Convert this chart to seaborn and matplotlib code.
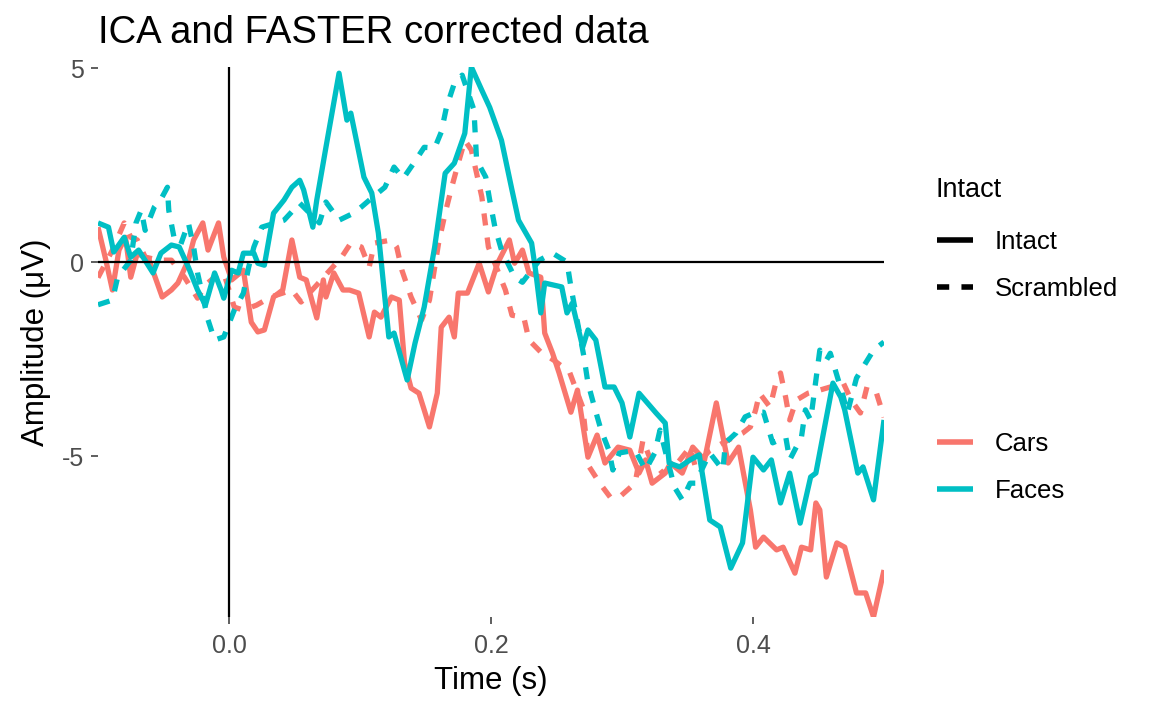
import numpy as np
import pandas as pd
import seaborn as sns
import matplotlib.pyplot as plt
from matplotlib.lines import Line2D

# values (time in s, amplitude in uV)
cars_intact_t = [-0.100, -0.094, -0.089, -0.084, -0.079, -0.075, -0.070, -0.061, -0.051, -0.044,
                 -0.039, -0.031, -0.027, -0.020, -0.016, -0.008, -0.004, 0.002, 0.011, 0.017,
                 0.022, 0.027, 0.034, 0.041, 0.048, 0.054, 0.059, 0.067, 0.072, 0.074,
                 0.080, 0.087, 0.092, 0.099, 0.107, 0.111, 0.116, 0.124, 0.130, 0.134,
                 0.139, 0.145, 0.149, 0.153, 0.159, 0.162, 0.168, 0.172, 0.175, 0.182,
                 0.191, 0.198, 0.205, 0.214, 0.218, 0.224, 0.229, 0.238, 0.241, 0.247,
                 0.252, 0.261, 0.266, 0.274, 0.281, 0.287, 0.297, 0.306, 0.313, 0.318,
                 0.323, 0.333, 0.337, 0.346, 0.354, 0.363, 0.372, 0.381, 0.389, 0.398,
                 0.402, 0.408, 0.418, 0.423, 0.432, 0.437, 0.444, 0.448, 0.451, 0.456,
                 0.464, 0.470, 0.479, 0.486, 0.492, 0.500]
cars_intact_uv = [0.90, 0.05, -0.72, 0.31, 0.64, -0.39, 0.23, 0.05, -0.90, -0.72,
                  -0.54, 0.05, 0.57, 1.01, 0.31, 1.01, 0.13, -0.46, -0.21, -1.55,
                  -1.80, -1.75, -0.90, -0.72, 0.57, -0.39, -0.46, -1.44, -0.46, -0.90,
                  -0.28, -0.72, -0.72, -0.80, -1.93, -1.29, -1.42, -0.90, -0.98, -2.60,
                  -3.25, -3.38, -3.81, -4.25, -3.38, -1.68, -1.42, -1.93, -0.80, -0.80,
                  -0.03, -0.77, -0.03, 0.57, -0.03, 0.31, -0.28, -0.39, -1.83, -2.35,
                  -2.86, -3.87, -3.30, -5.03, -4.46, -5.18, -4.77, -4.85, -5.44, -5.10,
                  -5.70, -5.44, -5.18, -5.44, -4.77, -5.10, -3.63, -5.18, -4.77, -6.39,
                  -7.35, -7.09, -7.42, -7.35, -8.02, -7.35, -7.42, -6.21, -6.39, -8.12,
                  -7.24, -7.35, -8.53, -8.53, -9.15, -7.94]

cars_scr_t = [-0.100, -0.089, -0.080, -0.075, -0.070, -0.064, -0.054, -0.044, -0.034, -0.024,
              -0.018, -0.011, -0.004, 0.004, 0.011, 0.021, 0.032, 0.048, 0.055, 0.067,
              0.077, 0.086, 0.093, 0.101, 0.107, 0.111, 0.124, 0.128, 0.132, 0.139,
              0.147, 0.153, 0.160, 0.165, 0.170, 0.175, 0.180, 0.185, 0.189, 0.193,
              0.198, 0.205, 0.211, 0.216, 0.225, 0.229, 0.238, 0.248, 0.260, 0.270,
              0.275, 0.283, 0.291, 0.298, 0.310, 0.316, 0.321, 0.331, 0.340, 0.352,
              0.356, 0.367, 0.381, 0.392, 0.398, 0.402, 0.405, 0.413, 0.418, 0.421,
              0.425, 0.428, 0.433, 0.442, 0.451, 0.469, 0.475, 0.482, 0.487, 0.494,
              0.500]
cars_scr_uv = [-0.40, 0.31, 1.01, 0.64, 0.57, 0.13, 0.05, 0.05, -0.39, -0.93,
               -0.59, -0.39, -0.28, -1.16, -1.24, -1.11, -0.90, -0.72, -1.03, -0.59,
               -0.21, 0.13, 0.49, 0.39, -0.13, 0.49, 0.57, 0.39, -0.21, -0.90,
               -1.49, -0.98, 0.49, 1.26, 1.93, 2.55, 3.14, 2.89, 2.29, 1.68,
               0.39, -0.21, -0.72, -1.37, -1.42, -2.01, -2.32, -2.53, -2.84, -3.74,
               -5.28, -5.70, -6.06, -6.06, -5.70, -4.59, -5.03, -5.44, -5.28, -4.77,
               -5.28, -4.85, -4.59, -4.41, -4.25, -3.81, -3.38, -3.74, -3.04, -2.86,
               -3.50, -4.07, -3.56, -3.38, -3.30, -3.12, -3.56, -3.89, -3.22, -3.35,
               -4.00]

faces_intact_t = [-0.100, -0.092, -0.088, -0.080, -0.075, -0.069, -0.058, -0.052, -0.044, -0.038,
                  -0.031, -0.024, -0.018, -0.011, -0.006, -0.004, 0.002, 0.007, 0.011, 0.019,
                  0.022, 0.027, 0.034, 0.042, 0.048, 0.054, 0.057, 0.064, 0.067, 0.074,
                  0.084, 0.090, 0.093, 0.103, 0.109, 0.114, 0.122, 0.126, 0.136, 0.142,
                  0.149, 0.157, 0.165, 0.172, 0.180, 0.185, 0.193, 0.199, 0.208, 0.216,
                  0.221, 0.231, 0.234, 0.238, 0.241, 0.254, 0.258, 0.262, 0.270, 0.274,
                  0.280, 0.287, 0.294, 0.300, 0.306, 0.313, 0.326, 0.333, 0.336, 0.344,
                  0.352, 0.359, 0.367, 0.375, 0.383, 0.392, 0.400, 0.408, 0.414, 0.421,
                  0.428, 0.436, 0.444, 0.448, 0.461, 0.467, 0.470, 0.480, 0.484, 0.492,
                  0.500]
faces_intact_uv = [1.01, 0.90, 0.26, 0.64, 0.13, 0.31, -0.28, 0.23, 0.44, 0.39,
                   -0.13, -0.72, -1.11, -0.28, -0.72, -0.93, -0.21, -0.28, 0.23, 0.23,
                   -0.03, -0.08, 1.26, 1.60, 1.93, 2.11, 1.86, 0.90, 1.60, 2.96,
                   4.87, 3.66, 3.84, 2.19, 1.78, 0.75, -1.93, -1.83, -3.04, -2.09,
                   -1.16, 0.39, 2.29, 2.55, 3.32, 5.03, 4.43, 3.99, 3.14, 1.86,
                   1.08, 0.49, -0.21, -1.31, -0.54, -0.64, -1.31, -1.06, -2.19, -1.75,
                   -2.01, -3.22, -3.22, -3.63, -4.51, -3.38, -3.89, -4.15, -5.18, -5.28,
                   -5.10, -4.97, -6.65, -6.83, -7.89, -7.24, -5.03, -5.36, -5.10, -6.21,
                   -5.44, -6.73, -5.54, -5.44, -3.12, -3.48, -3.81, -5.44, -5.28, -6.13,
                   -4.07]

faces_scr_t = [-0.100, -0.089, -0.085, -0.075, -0.071, -0.067, -0.064, -0.057, -0.051, -0.047,
               -0.046, -0.042, -0.037, -0.031, -0.027, -0.024, -0.016, -0.011, -0.004, 0.004,
               0.011, 0.015, 0.019, 0.025, 0.042, 0.054, 0.069, 0.074, 0.084, 0.095,
               0.101, 0.110, 0.119, 0.126, 0.133, 0.141, 0.149, 0.157, 0.162, 0.166,
               0.172, 0.178, 0.187, 0.189, 0.196, 0.199, 0.203, 0.208, 0.218, 0.224,
               0.237, 0.247, 0.258, 0.261, 0.271, 0.274, 0.279, 0.284, 0.290, 0.293,
               0.298, 0.310, 0.318, 0.325, 0.329, 0.340, 0.346, 0.352, 0.356, 0.367,
               0.377, 0.379, 0.387, 0.394, 0.402, 0.408, 0.415, 0.425, 0.428, 0.437,
               0.440, 0.444, 0.446, 0.451, 0.456, 0.459, 0.469, 0.472, 0.479, 0.486,
               0.492, 0.500]
faces_scr_uv = [-1.10, -0.98, -0.39, 0.05, 1.01, 1.34, 0.82, 1.42, 1.68, 1.93,
                1.34, 0.64, 0.44, 1.01, 0.39, -0.28, -1.49, -2.01, -1.93, -1.24,
                -0.80, -0.13, 0.39, 0.90, 1.08, 1.52, 1.01, 1.55, 1.08, 1.26,
                1.42, 1.68, 1.93, 2.45, 2.16, 2.55, 2.96, 2.94, 3.35, 3.99,
                4.61, 4.82, 3.92, 2.63, 2.19, 1.60, 0.90, 0.31, -0.39, -0.52,
                0.05, 0.23, 0.00, -0.64, -2.45, -3.12, -3.74, -4.33, -4.85, -5.36,
                -4.92, -4.85, -5.36, -4.92, -4.33, -5.80, -6.13, -5.70, -5.70, -4.92,
                -5.36, -4.66, -4.41, -3.99, -3.87, -3.87, -4.66, -4.51, -5.10, -4.51,
                -3.81, -4.07, -3.56, -2.27, -2.53, -2.35, -3.48, -3.89, -2.99, -2.60,
                -2.27, -2.06]

objects = ["Cars", "Faces"]
conditions = ["Intact", "Scrambled"]
colors = ["#F8766D", "#00BFC4"]

frames = []
for obj, cond, t, uv in [("Cars", "Intact", cars_intact_t, cars_intact_uv),
                         ("Cars", "Scrambled", cars_scr_t, cars_scr_uv),
                         ("Faces", "Intact", faces_intact_t, faces_intact_uv),
                         ("Faces", "Scrambled", faces_scr_t, faces_scr_uv)]:
    frames.append(pd.DataFrame({"Time": t, "Amplitude": uv, "Object": obj, "Intact": cond}))
df = pd.concat(frames, ignore_index=True)

sns.set_theme(style="white")
plt.rcParams["font.family"] = ["Liberation Sans", "DejaVu Sans"]
plt.rcParams["axes.unicode_minus"] = False
plt.rcParams["text.color"] = "black"
plt.rcParams["axes.labelcolor"] = "black"

W, H = 1152, 711
fig = plt.figure(figsize=(W / 100, H / 100), dpi=100)
ax = fig.add_axes([98 / W, 1 - 617 / H, 786 / W, 550 / H])

sns.lineplot(data=df, x="Time", y="Amplitude", hue="Object", style="Intact",
             hue_order=objects, style_order=conditions,
             palette=dict(zip(objects, colors)),
             dashes={"Intact": "", "Scrambled": (2.3, 2.3)},
             estimator=None, sort=True, linewidth=3.8, solid_capstyle="butt",
             legend=False, ax=ax)

ax.axhline(0, color="black", lw=1.6, zorder=5)
ax.axvline(0, color="black", lw=1.6, zorder=5)

ax.set_xlim(df["Time"].min(), df["Time"].max())
ax.set_ylim(df["Amplitude"].min(), df["Amplitude"].max())
ax.set_xticks([0.0, 0.2, 0.4])
ax.set_xticklabels(["0.0", "0.2", "0.4"])
ax.set_yticks([-5, 0, 5])
ax.set_yticklabels(["-5", "0", "5"])
for s in ax.spines.values():
    s.set_visible(False)
ax.tick_params(axis="both", which="major", length=5, width=1.1, color="#333333",
               labelcolor="#4D4D4D", labelsize=18, pad=5, bottom=True, left=True)
ax.tick_params(axis="x", pad=7)

ax.set_xlabel("Time (s)", fontsize=22.5, labelpad=6)
ax.set_ylabel("Amplitude (\u03bcV)", fontsize=22.5, labelpad=8)
ax.set_title("ICA and FASTER corrected data", loc="left", fontsize=27.5, pad=17)

# legends: linetype (titled) and colour (untitled)
fig.text(935 / W, 1 - 190 / H, "Intact", fontsize=19.5, va="center", ha="left")
style_handles = [Line2D([], [], color="black", lw=4, solid_capstyle="butt"),
                 Line2D([], [], color="black", lw=4, dashes=(2.2, 2.2))]
fig.legend(style_handles, conditions, loc="upper left",
           bbox_to_anchor=(937 / W, 1 - 229.6 / H), frameon=False, fontsize=18.5,
           handlelength=1.4, handletextpad=0.85, labelspacing=0.9,
           borderpad=0, borderaxespad=0)
color_handles = [Line2D([], [], color=c, lw=4, solid_capstyle="butt") for c in colors]
fig.legend(color_handles, objects, loc="upper left",
           bbox_to_anchor=(937 / W, 1 - 431.6 / H), frameon=False, fontsize=18.5,
           handlelength=1.4, handletextpad=0.85, labelspacing=0.9,
           borderpad=0, borderaxespad=0)

fig.savefig("out.png", dpi=100)
